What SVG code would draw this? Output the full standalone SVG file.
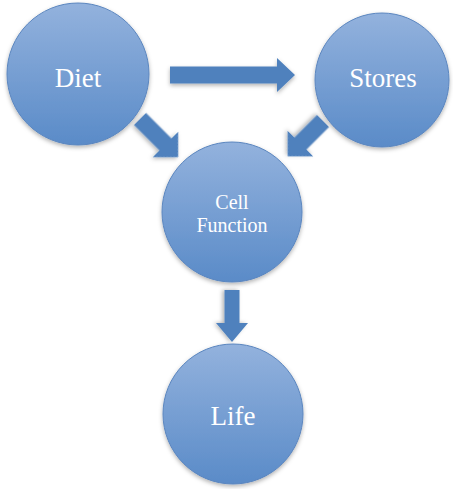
<svg xmlns="http://www.w3.org/2000/svg" width="453" height="489" viewBox="0 0 453 489">
<defs>
<linearGradient id="g" x1="0" y1="0" x2="0" y2="1">
<stop offset="0" stop-color="#93b2dd"/>
<stop offset="1" stop-color="#5a8bc8"/>
</linearGradient>
<filter id="sh" x="-20%" y="-20%" width="140%" height="140%">
<feDropShadow dx="0" dy="2" stdDeviation="2" flood-color="#000" flood-opacity="0.3"/>
</filter>
<path id="arr" d="M0,-8.5 H-18 V-18 L0,0 Z"/>
</defs>
<style>
.node circle{fill:url(#g);stroke:#5b86bf;stroke-width:1;filter:url(#sh)}
.node text{fill:#fff;font-family:"Liberation Serif","DejaVu Serif",serif;text-anchor:middle}
.big{font-size:27px}
.small{font-size:20px}
.arrow{fill:#4f81bd;filter:url(#sh)}
</style>
<rect width="453" height="489" fill="#fff"/>
<g id="connectors">
<path class="arrow" d="M170,66.5 H277 V58 L295,75 L277,92 V83.5 H170 Z"/>
<path class="arrow" transform="translate(140,119) rotate(45)" d="M0,-8.5 H36 V-18 L54,0 L36,18 V8.5 H0 Z"/>
<path class="arrow" transform="translate(323,121) rotate(135)" d="M0,-8.5 H32 V-18 L50,0 L32,18 V8.5 H0 Z"/>
<path class="arrow" transform="translate(232,290) rotate(90)" d="M0,-7.5 H33 V-16 L52,0 L33,16 V7.5 H0 Z"/>
</g>
<g id="diet" class="node">
<circle cx="78" cy="74" r="71"/>
<text class="big" x="78" y="87">Diet</text>
</g>
<g id="stores" class="node">
<circle cx="382" cy="80" r="67"/>
<text class="big" x="383" y="87">Stores</text>
</g>
<g id="cell-function" class="node">
<circle cx="232" cy="212" r="70"/>
<text class="small" x="232" y="209">Cell</text>
<text class="small" x="232" y="232">Function</text>
</g>
<g id="life" class="node">
<circle cx="233" cy="414" r="70"/>
<text class="big" x="233" y="425">Life</text>
</g>
</svg>
